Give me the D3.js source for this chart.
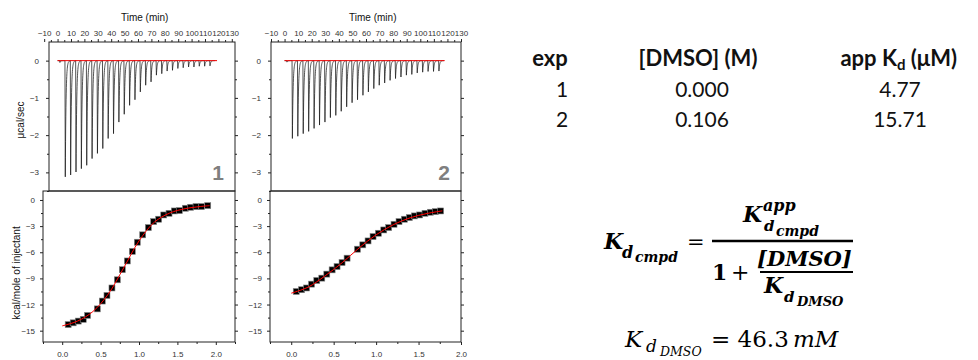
<!DOCTYPE html>
<html>
<head>
	<meta charset="utf-8">
	<title>ITC DMSO competition</title>
	<script type="text/javascript" src="https://cdn.jsdelivr.net/npm/d3@7"></script>
	<style>
		body {
			margin: 0;
			background: #fff;
		}
	</style>
</head>
<body>
	<div id="chart"></div>
	<script>

	// data

	// injection times (min)
	const injTime = [1.5, 5.5, 9.5, 13.5, 17.5, 21.5, 25.5, 29.5, 33.5, 37.5, 41.5, 45.5, 49.5, 53.5, 57.5,
		61.5, 65.5, 69.5, 73.5, 77.5, 81.5, 85.5, 89.5, 93.5, 97.5, 101.5, 105.5, 109.5, 113.5];

	// peak minima (ucal/sec)
	const peaks1 = [-0.05, -3.12, -3.07, -2.99, -2.90, -2.81, -2.63, -2.49, -2.36, -2.09, -1.96, -1.65, -1.44, -1.20, -1.05,
		-0.84, -0.66, -0.57, -0.39, -0.35, -0.28, -0.26, -0.21, -0.19, -0.17, -0.17, -0.15, -0.15, -0.14];
	const peaks2 = [-0.04, -2.09, -2.03, -1.96, -1.90, -1.82, -1.73, -1.65, -1.53, -1.47, -1.36, -1.24, -1.13, -1.05, -0.93,
		-0.84, -0.75, -0.66, -0.60, -0.53, -0.48, -0.44, -0.39, -0.37, -0.33, -0.31, -0.29, -0.29, -0.28];

	const baseline1 = [0, 119];
	const baseline2 = [0, 118];

	// integrated heats: molar ratio / kcal per mole of injectant
	const ratio1 = [0.078, 0.143, 0.209, 0.274, 0.330, 0.457, 0.522, 0.583, 0.648, 0.718, 0.783, 0.848, 0.913, 0.978,
		1.048, 1.122, 1.191, 1.256, 1.322, 1.391, 1.460, 1.525, 1.604, 1.673, 1.743, 1.812, 1.895];
	const heat1 = [-14.3, -14.1, -13.9, -13.7, -13.25, -12.5, -11.6, -10.96, -10.1, -9.16, -8.0, -7.0, -5.9, -4.85,
		-4.0, -3.17, -2.48, -2.21, -1.72, -1.53, -1.26, -1.22, -0.95, -0.84, -0.76, -0.76, -0.65];
	const ratio2 = [0.059, 0.121, 0.180, 0.239, 0.301, 0.360, 0.419, 0.482, 0.540, 0.599, 0.658, 0.780, 0.843, 0.905,
		0.964, 1.027, 1.090, 1.148, 1.211, 1.270, 1.333, 1.392, 1.451, 1.513, 1.576, 1.639, 1.698, 1.760];
	const heat2 = [-10.5, -10.3, -10.1, -9.66, -9.24, -8.97, -8.51, -8.02, -7.64, -7.18, -6.68, -5.65, -5.15, -4.7,
		-4.2, -3.82, -3.44, -3.17, -2.79, -2.48, -2.21, -2.02, -1.83, -1.72, -1.53, -1.41, -1.34, -1.26];

	// fitted curves
	const fitX1 = [0.0, 0.2, 0.4, 0.6, 0.8, 1.0, 1.2, 1.4, 1.6, 1.8, 1.92];
	const fitY1 = [-14.45, -13.9, -12.8, -10.8, -7.8, -4.7, -2.55, -1.5, -1.0, -0.75, -0.65];
	const fitX2 = [0.0, 0.2, 0.4, 0.6, 0.8, 1.0, 1.2, 1.4, 1.6, 1.78];
	const fitY2 = [-10.7, -10.0, -8.7, -7.2, -5.5, -4.0, -2.85, -2.05, -1.55, -1.25];

	// table
	const expIds = ["1", "2"];
	const dmsoConc = ["0.000", "0.106"];
	const appKd = ["4.77", "15.71"];

	const timeTicks = d3.range(-10, 131, 10);
	const rawTicks = [-3, -2, -1, 0];
	const heatTicks = [-15, -12, -9, -6, -3, 0];
	const ratioTicks = [0, 0.5, 1, 1.5, 2];

	// layout

	const W = 978, H = 360;
	const svg = d3.select("#chart").append("svg")
		.attr("width", W)
		.attr("height", H)
		.attr("font-family", "'Liberation Sans', Arial, sans-serif");

	const panels = [
		{ num: "1", peaks: peaks1, base: baseline1, ratio: ratio1, heat: heat1, fx: fitX1, fy: fitY1,
			top: { x0: 49, x1: 235, dom: [-6.4, 132.4] },
			bot: { x0: 43, x1: 235, dom: [-0.25, 2.25] },
			rawLabel: "μcal/sec", heatLabel: "kcal/mole of injectant" },
		{ num: "2", peaks: peaks2, base: baseline2, ratio: ratio2, heat: heat2, fx: fitX2, fy: fitY2,
			top: { x0: 271, x1: 461, dom: [-10, 130] },
			bot: { x0: 270, x1: 461, dom: [-0.25, 2.0] } }
	];

	const yTop = d3.scaleLinear([-3.5, 0.5], [191, 42]);
	const yBot = d3.scaleLinear([-16.3, 1.03], [342, 191]);

	function styleAxis(g) {
		g.select(".domain").remove();
		g.selectAll("line").attr("stroke", "#222");
		g.selectAll("text").attr("fill", "#333").attr("font-size", 8);
	}

	panels.forEach((p, k) => {
		const xt = d3.scaleLinear(p.top.dom, [p.top.x0, p.top.x1]);
		const xb = d3.scaleLinear(p.bot.dom, [p.bot.x0, p.bot.x1]);

		// raw thermogram
		const gTop = svg.append("g");
		gTop.append("g")
			.attr("transform", `translate(0,${yTop.range()[1]})`)
			.call(d3.axisTop(xt).tickValues(timeTicks).tickSize(3).tickPadding(3))
			.call(styleAxis);
		gTop.append("g")
			.attr("transform", `translate(0,${yTop.range()[1]})`)
			.call(d3.axisTop(xt).tickValues(d3.range(-5, 131, 10).filter(v => v > p.top.dom[0] && v < p.top.dom[1])).tickSize(2).tickFormat(""))
			.call(styleAxis);
		gTop.append("g")
			.attr("transform", `translate(${p.top.x0},0)`)
			.call(d3.axisLeft(yTop).tickValues(rawTicks).tickSize(3).tickPadding(7).tickFormat(d3.format("d")))
			.call(styleAxis);
		gTop.append("g")
			.attr("transform", `translate(${p.top.x0},0)`)
			.call(d3.axisLeft(yTop).tickValues([-3.5, -2.5, -1.5, -0.5]).tickSize(2).tickFormat(""))
			.call(styleAxis);
		gTop.append("g")
			.attr("transform", `translate(${p.top.x1},0)`)
			.call(d3.axisRight(yTop).tickValues(rawTicks).tickSize(3).tickFormat(""))
			.call(styleAxis);
		gTop.append("g")
			.attr("transform", `translate(${p.top.x1},0)`)
			.call(d3.axisRight(yTop).tickValues([-2.5, -1.5, -0.5]).tickSize(2).tickFormat(""))
			.call(styleAxis);

		// each injection: fast drop then exponential return to baseline
		const trace = [];
		p.peaks.forEach((d, i) => {
			const t0 = injTime[i];
			const tEnd = i + 1 < injTime.length ? injTime[i + 1] : t0 + 4;
			trace.push([t0, 0], [t0 + 0.25, d]);
			for (let t = t0 + 0.25; t < tEnd; t += 0.1) {
				trace.push([t, d * Math.exp(-(t - t0 - 0.25) / 0.55)]);
			}
		});
		trace.unshift([0, 0]);
		gTop.append("path")
			.attr("d", d3.line().x(d => xt(d[0])).y(d => yTop(d[1]))(trace))
			.attr("fill", "none")
			.attr("stroke", "#1a1a1a")
			.attr("stroke-width", 0.75);
		gTop.append("line")
			.attr("x1", xt(p.base[0])).attr("x2", xt(p.base[1]))
			.attr("y1", yTop(0)).attr("y2", yTop(0))
			.attr("stroke", "#e00")
			.attr("stroke-width", 1);

		gTop.append("rect")
			.attr("x", p.top.x0).attr("y", yTop.range()[1])
			.attr("width", p.top.x1 - p.top.x0).attr("height", yTop.range()[0] - yTop.range()[1])
			.attr("fill", "none").attr("stroke", "#222");

		gTop.append("text")
			.attr("x", (xt(0) + xt(130)) / 2)
			.attr("y", 21)
			.attr("text-anchor", "middle")
			.attr("font-size", 10)
			.attr("fill", "#111")
			.text("Time (min)");

		gTop.append("text")
			.attr("x", p.top.x1 - 17)
			.attr("y", 180)
			.attr("text-anchor", "middle")
			.attr("font-size", 21)
			.attr("font-weight", "bold")
			.attr("fill", "#7f7f7f")
			.text(p.num);

		// integrated heats
		const gBot = svg.append("g");
		gBot.append("g")
			.attr("transform", `translate(0,${yBot.range()[0]})`)
			.call(d3.axisBottom(xb).tickValues(ratioTicks).tickSize(3).tickPadding(6).tickFormat(d3.format(".1f")))
			.call(styleAxis);
		gBot.append("g")
			.attr("transform", `translate(0,${yBot.range()[0]})`)
			.call(d3.axisBottom(xb).tickValues([-0.25, 0.25, 0.75, 1.25, 1.75, 2.25].filter(v => v <= p.bot.dom[1])).tickSize(2).tickFormat(""))
			.call(styleAxis);
		gBot.append("g")
			.attr("transform", `translate(${p.bot.x0},0)`)
			.call(d3.axisLeft(yBot).tickValues(heatTicks).tickSize(3).tickPadding(5).tickFormat(d3.format("d")))
			.call(styleAxis);
		gBot.append("g")
			.attr("transform", `translate(${p.bot.x0},0)`)
			.call(d3.axisLeft(yBot).tickValues([-13.5, -10.5, -7.5, -4.5, -1.5]).tickSize(2).tickFormat(""))
			.call(styleAxis);
		gBot.append("g")
			.attr("transform", `translate(${p.bot.x1},0)`)
			.call(d3.axisRight(yBot).tickValues(heatTicks).tickSize(3).tickFormat(""))
			.call(styleAxis);
		gBot.append("g")
			.attr("transform", `translate(${p.bot.x1},0)`)
			.call(d3.axisRight(yBot).tickValues([-13.5, -10.5, -7.5, -4.5, -1.5]).tickSize(2).tickFormat(""))
			.call(styleAxis);

		gBot.selectAll("rect.pt")
			.data(p.ratio)
			.join("rect")
			.attr("class", "pt")
			.attr("x", (d, i) => xb(d) - 3)
			.attr("y", (d, i) => yBot(p.heat[i]) - 3)
			.attr("width", 6)
			.attr("height", 6)
			.attr("fill", "#000")
			.attr("stroke", "#888")
			.attr("stroke-width", 0.6);

		gBot.append("path")
			.attr("d", d3.line().curve(d3.curveCatmullRom).x(d => xb(d)).y((d, i) => yBot(p.fy[i]))(p.fx))
			.attr("fill", "none")
			.attr("stroke", "#f00")
			.attr("stroke-width", 1);

		gBot.append("rect")
			.attr("x", p.bot.x0).attr("y", yBot.range()[1])
			.attr("width", p.bot.x1 - p.bot.x0).attr("height", yBot.range()[0] - yBot.range()[1])
			.attr("fill", "none").attr("stroke", "#222");

		if (p.rawLabel) {
			svg.append("text")
				.attr("transform", "translate(24,120) rotate(-90)")
				.attr("text-anchor", "middle")
				.attr("font-size", 10)
				.attr("fill", "#111")
				.text(p.rawLabel);
			svg.append("text")
				.attr("transform", "translate(20,273) rotate(-90)")
				.attr("text-anchor", "middle")
				.attr("font-size", 10)
				.attr("fill", "#111")
				.text(p.heatLabel);
		}
	});

	// table of apparent Kd
	const tab = svg.append("g")
		.attr("font-family", "Lato, 'Noto Sans', sans-serif")
		.attr("fill", "#111");
	const cols = [550, 698, 900];
	tab.append("text").attr("x", cols[0]).attr("y", 66).attr("text-anchor", "middle")
		.attr("font-size", 22).attr("font-weight", "bold").text("exp");
	tab.append("text").attr("x", cols[1]).attr("y", 66).attr("text-anchor", "middle")
		.attr("font-size", 22).attr("font-weight", "bold").text("[DMSO] (M)");
	const kh = tab.append("text").attr("x", 957).attr("y", 66).attr("text-anchor", "end")
		.attr("font-size", 22).attr("font-weight", "bold");
	kh.append("tspan").text("app K");
	kh.append("tspan").attr("font-size", 15).attr("dy", 4).text("d");
	kh.append("tspan").attr("dy", -4).text(" (μM)");

	expIds.forEach((e, i) => {
		const y = 97 + i * 30;
		tab.append("text").attr("x", 562).attr("y", y).attr("text-anchor", "middle").attr("font-size", 21).text(e);
		tab.append("text").attr("x", 702).attr("y", y).attr("text-anchor", "middle").attr("font-size", 21).text(dmsoConc[i]);
		tab.append("text").attr("x", cols[2]).attr("y", y).attr("text-anchor", "middle").attr("font-size", 21).text(appKd[i]);
	});

	// competition formula
	const eq = svg.append("g")
		.attr("font-family", "'DejaVu Serif', serif")
		.attr("fill", "#000");

	function piece(x, y, size, str, opts = {}) {
		eq.append("text")
			.attr("x", x).attr("y", y)
			.attr("font-size", size)
			.attr("font-weight", opts.bold === false ? "normal" : "bold")
			.attr("font-style", opts.italic === false ? "normal" : "italic")
			.text(str);
	}

	piece(604, 249, 22, "K");
	piece(622, 258, 16, "d");
	piece(635, 262, 14, "cmpd");
	piece(687, 249, 21, "=", { bold: false, italic: false });
	eq.append("line").attr("x1", 712).attr("x2", 853).attr("y1", 241).attr("y2", 241)
		.attr("stroke", "#000").attr("stroke-width", 2.6);
	piece(743, 222, 22, "K");
	piece(763, 211, 16, "app");
	piece(764, 231, 15, "d");
	piece(776, 236, 14, "cmpd");
	piece(712, 280, 22, "1", { italic: false });
	piece(731, 280, 22, "+", { bold: false, italic: false });
	piece(757, 266, 21, "[DMSO]");
	eq.append("line").attr("x1", 760).attr("x2", 853).attr("y1", 272).attr("y2", 272)
		.attr("stroke", "#000").attr("stroke-width", 2);
	piece(764, 293, 22, "K");
	piece(784, 302, 15, "d");
	piece(797, 306, 13, "DMSO");

	piece(625, 347, 23, "K", { bold: false });
	piece(646, 352, 17, "d", { bold: false });
	piece(660, 356, 12.5, "DMSO", { bold: false });
	piece(711, 347, 23, "= 46.3", { bold: false, italic: false });
	piece(793, 347, 23, "mM", { bold: false });

	</script>
</body>
</html>
